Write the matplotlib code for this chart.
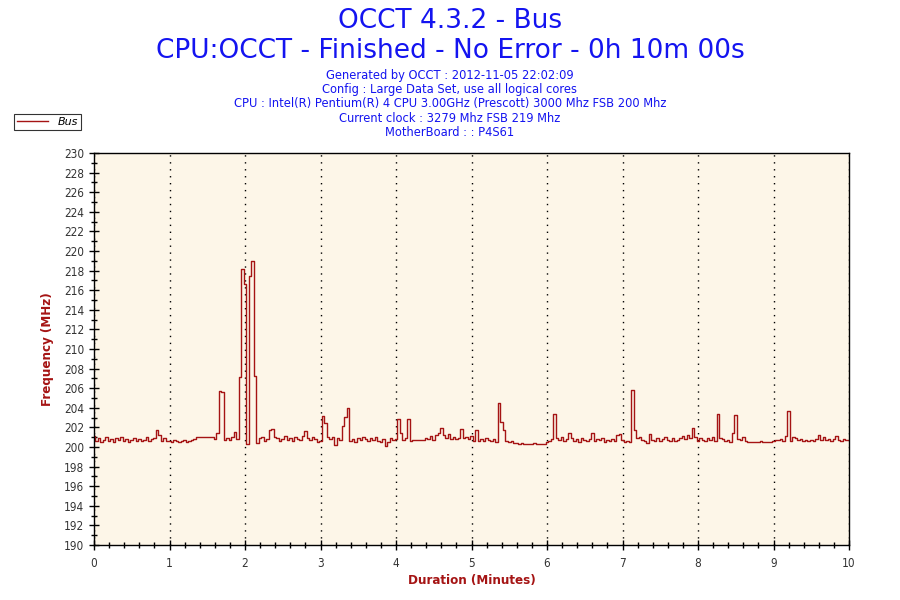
import matplotlib
matplotlib.use('Agg')
import matplotlib.pyplot as plt
import numpy as np
from matplotlib.ticker import MultipleLocator

# bus frequency, one value every 2 seconds, one list per minute
m0 = [201.1, 200.6, 200.9, 200.5, 200.7, 201.0, 200.6, 200.8, 200.5, 200.9, 200.7, 201.0, 200.6, 200.8, 200.5,
      200.7, 200.9, 200.6, 200.8, 200.6, 200.7, 201.0, 200.6, 200.8, 200.9, 201.7, 201.2, 200.6, 200.9, 200.6]
m1 = [200.6, 200.5, 200.7, 200.6, 200.5, 200.6, 200.7, 200.5, 200.6, 200.7, 200.8, 201.0, 201.0, 201.0, 201.0,
      201.0, 201.0, 201.0, 200.8, 201.4, 205.7, 205.6, 200.7, 200.9, 200.7, 201.0, 201.5, 200.8, 207.1, 218.2]
m2 = [216.6, 200.3, 217.5, 219.0, 207.2, 200.4, 200.9, 201.0, 200.6, 200.8, 201.7, 201.8, 201.0, 200.9, 200.6,
      200.8, 201.1, 200.7, 200.9, 200.6, 201.0, 200.8, 200.7, 201.1, 201.6, 200.9, 200.7, 201.0, 200.8, 200.5]
m3 = [200.6, 203.2, 202.4, 201.0, 200.8, 201.0, 200.2, 200.9, 200.7, 202.1, 203.1, 204.0, 200.6, 200.8, 200.5,
      200.9, 200.7, 201.0, 200.8, 200.6, 200.9, 200.7, 201.0, 200.6, 200.5, 200.8, 200.1, 200.5, 200.9, 200.7]
m4 = [200.8, 202.9, 201.4, 200.7, 200.9, 202.9, 200.6, 200.7, 200.7, 200.7, 200.7, 200.7, 200.9, 200.8, 201.1,
      200.7, 201.2, 201.4, 201.9, 201.2, 200.9, 201.3, 200.8, 201.0, 200.8, 200.9, 201.8, 200.9, 201.0, 200.8]
m5 = [201.1, 200.6, 201.7, 200.6, 200.8, 200.6, 200.9, 200.7, 200.6, 200.8, 200.5, 204.5, 202.6, 201.7, 200.6,
      200.5, 200.6, 200.4, 200.4, 200.3, 200.4, 200.3, 200.3, 200.3, 200.3, 200.4, 200.3, 200.3, 200.3, 200.3]
m6 = [200.5, 200.6, 200.8, 203.4, 200.9, 200.7, 201.0, 200.6, 200.8, 201.4, 200.9, 200.6, 200.8, 200.5, 200.9,
      200.7, 200.6, 200.8, 201.4, 200.6, 200.8, 200.7, 200.9, 200.5, 200.7, 200.6, 200.8, 200.6, 201.2, 201.3]
m7 = [200.7, 200.5, 200.6, 200.5, 205.8, 201.7, 200.9, 201.0, 200.7, 200.6, 200.4, 201.3, 200.7, 200.6, 200.9,
      200.6, 200.8, 201.0, 200.7, 200.6, 200.9, 200.6, 200.7, 200.9, 201.1, 200.8, 201.2, 200.9, 201.9, 201.0]
m8 = [200.6, 200.9, 200.7, 200.6, 200.9, 200.7, 201.0, 200.6, 203.4, 200.9, 200.8, 200.6, 200.7, 200.5, 201.4,
      203.3, 200.8, 200.7, 201.0, 200.6, 200.5, 200.5, 200.5, 200.5, 200.5, 200.6, 200.5, 200.5, 200.5, 200.5]
m9 = [200.6, 200.7, 200.7, 200.8, 200.6, 201.1, 203.7, 200.6, 201.0, 200.9, 200.7, 200.8, 200.6, 200.7, 200.6,
      200.7, 200.6, 200.8, 201.2, 200.7, 201.0, 200.7, 200.8, 200.6, 200.8, 201.1, 200.7, 200.6, 200.8, 200.7]
last = [200.7]

bus = m0 + m1 + m2 + m3 + m4 + m5 + m6 + m7 + m8 + m9 + last
minutes = np.arange(len(bus)) / 30.0

title1 = 'OCCT 4.3.2 - Bus'
title2 = 'CPU:OCCT - Finished - No Error - 0h 10m 00s'
infos = ['Generated by OCCT : 2012-11-05 22:02:09',
         'Config : Large Data Set, use all logical cores',
         'CPU : Intel(R) Pentium(R) 4 CPU 3.00GHz (Prescott) 3000 Mhz FSB 200 Mhz',
         'Current clock : 3279 Mhz FSB 219 Mhz',
         'MotherBoard : : P4S61']

blue = '#1414f0'
red = '#a51414'

fig = plt.figure(figsize=(9, 6), dpi=100)
fig.patch.set_facecolor('white')
ax = fig.add_axes([94/900, 1-545/600, (849-94)/900, (545-153)/600])
ax.set_facecolor('#fdf6e8')

ax.plot(minutes, bus, color=red, lw=1.0, label='Bus', drawstyle='steps-mid')

ax.set_xlim(0, 10)
ax.set_ylim(190, 230)
ax.xaxis.set_major_locator(MultipleLocator(1))
ax.xaxis.set_minor_locator(MultipleLocator(0.2))
ax.yaxis.set_major_locator(MultipleLocator(2))
ax.yaxis.set_minor_locator(MultipleLocator(1))
ax.tick_params(which='major', direction='inout', length=7, width=1, colors='black',
               labelcolor='#333333', labelsize=8.5)
ax.tick_params(which='minor', direction='inout', length=5, width=1, colors='black')
ax.tick_params(axis='x', pad=5)
for lab in ax.get_xticklabels() + ax.get_yticklabels():
    lab.set_fontstretch('condensed')
for s in ax.spines.values():
    s.set_color('black')
    s.set_linewidth(1)

ax.grid(axis='x', which='major', color='black', linestyle=(0, (1, 4)), lw=1)

ax.set_xlabel('Duration (Minutes)', color=red, fontsize=9.5, fontweight='bold',
              fontstretch='condensed', labelpad=3)
ax.set_ylabel('Frequency (MHz)', color=red, fontsize=9.5, fontweight='bold',
              fontstretch='condensed', labelpad=7)

fig.text(0.5, 1-21/600, title1, ha='center', va='center', color=blue, fontsize=19)
fig.text(0.5, 1-51/600, title2, ha='center', va='center', color=blue, fontsize=19)
for i, s in enumerate(infos):
    fig.text(0.5, 1-(76+14*i)/600, s, ha='center', va='center', color=blue, fontsize=8.3)

leg = fig.legend(loc='upper left', bbox_to_anchor=(14/900, 1-114/600), frameon=True,
                 fancybox=False, edgecolor='black', fontsize=8, handlelength=2.8,
                 borderpad=0.25, handletextpad=0.9, borderaxespad=0)
leg.get_frame().set_linewidth(0.8)
for t in leg.get_texts():
    t.set_style('italic')

fig.savefig('out.png', dpi=100)
